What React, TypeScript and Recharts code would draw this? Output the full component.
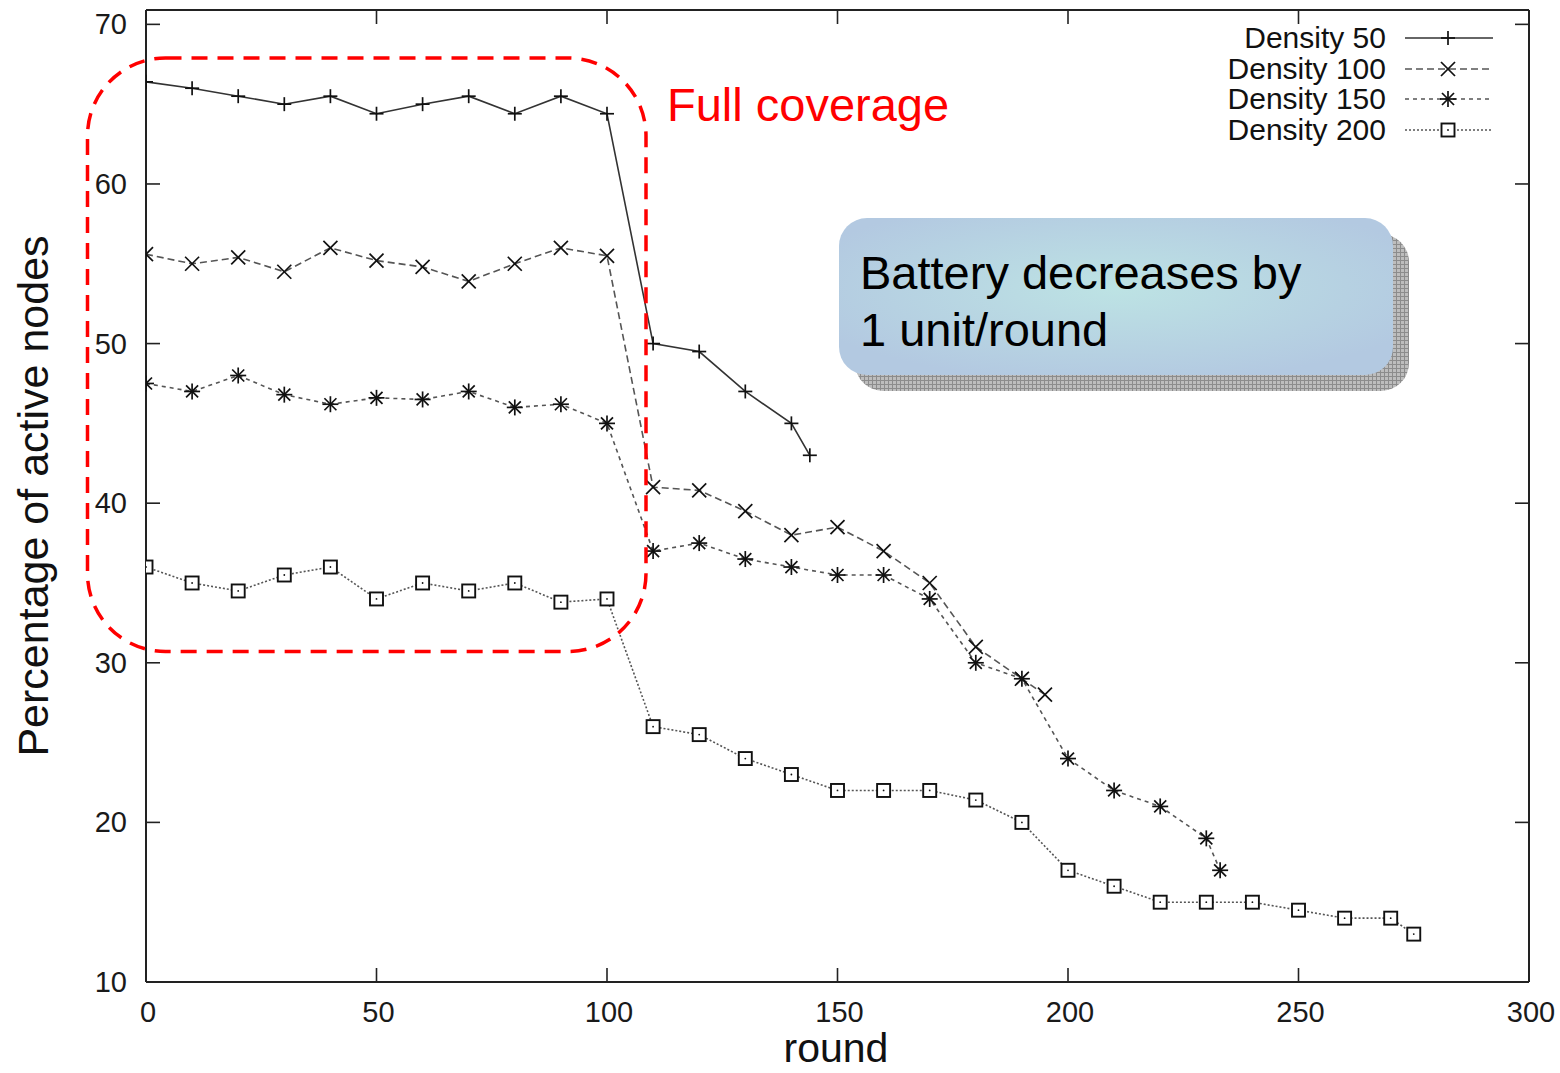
import React from 'react';
import { LineChart, Line, XAxis, YAxis, Legend } from 'recharts';

// ---------- data ----------
const rounds50 = [0, 10, 20, 30, 40, 50, 60, 70, 80, 90, 100, 110, 120, 130, 140, 144];
const density50 = [66.4, 66, 65.5, 65, 65.5, 64.4, 65, 65.5, 64.4, 65.5, 64.4, 50, 49.5, 47, 45, 43];

const rounds100 = [0, 10, 20, 30, 40, 50, 60, 70, 80, 90, 100, 110, 120, 130, 140, 150, 160, 170, 180, 190, 195];
const density100 = [55.6, 55, 55.4, 54.5, 56, 55.2, 54.8, 53.9, 55, 56, 55.5, 41, 40.8, 39.5, 38, 38.5, 37, 35, 31, 29, 28];

const rounds150 = [0, 10, 20, 30, 40, 50, 60, 70, 80, 90, 100, 110, 120, 130, 140, 150, 160, 170, 180, 190, 200, 210, 220, 230, 233];
const density150 = [47.5, 47, 48, 46.8, 46.2, 46.6, 46.5, 47, 46, 46.2, 45, 37, 37.5, 36.5, 36, 35.5, 35.5, 34, 30, 29, 24, 22, 21, 19, 17];

const rounds200 = [0, 10, 20, 30, 40, 50, 60, 70, 80, 90, 100, 110, 120, 130, 140, 150, 160, 170, 180, 190, 200, 210, 220, 230, 240, 250, 260, 270, 275];
const density200 = [36, 35, 34.5, 35.5, 36, 34, 35, 34.5, 35, 33.8, 34, 26, 25.5, 24, 23, 22, 22, 22, 21.4, 20, 17, 16, 15, 15, 15, 14.5, 14, 14, 13];

const xTicks = [0, 50, 100, 150, 200, 250, 300];
const yTicks = [10, 20, 30, 40, 50, 60, 70];
const seriesNames = ['Density 50', 'Density 100', 'Density 150', 'Density 200'];

const toPoints = (xs: number[], ys: number[]) => xs.map((x, i) => ({ round: x, value: ys[i] }));

const FONT = '"Liberation Sans", Arial, Helvetica, sans-serif';
const AXIS = '#222';
const MARK = '#111';

// ---------- markers ----------
type MP = { cx: number; cy: number };
const Plus = ({ cx, cy }: MP) => (
  <g stroke={MARK} strokeWidth={1.7}>
    <line x1={cx - 7} y1={cy} x2={cx + 7} y2={cy} />
    <line x1={cx} y1={cy - 7} x2={cx} y2={cy + 7} />
  </g>
);
const Cross = ({ cx, cy }: MP) => (
  <g stroke={MARK} strokeWidth={1.7}>
    <line x1={cx - 7} y1={cy - 7} x2={cx + 7} y2={cy + 7} />
    <line x1={cx - 7} y1={cy + 7} x2={cx + 7} y2={cy - 7} />
  </g>
);
const Star = ({ cx, cy }: MP) => (
  <g stroke={MARK} strokeWidth={1.7}>
    <line x1={cx - 8} y1={cy} x2={cx + 8} y2={cy} />
    <line x1={cx} y1={cy - 8} x2={cx} y2={cy + 8} />
    <line x1={cx - 6} y1={cy - 6} x2={cx + 6} y2={cy + 6} />
    <line x1={cx - 6} y1={cy + 6} x2={cx + 6} y2={cy - 6} />
  </g>
);
const Square = ({ cx, cy }: MP) => (
  <g>
    <rect x={cx - 6.5} y={cy - 6.5} width={13} height={13} fill="#fff" stroke={MARK} strokeWidth={1.9} />
    <circle cx={cx} cy={cy} r={0.9} fill={MARK} />
  </g>
);
const markers = [Plus, Cross, Star, Square];
const dashes = [undefined, '7 4', '4 4', '2 2'];
const lineColors = ['#333', '#555', '#555', '#555'];

const dotFor = (idx: number) => (p: any) => {
  const M = markers[idx];
  if (p.cx == null || p.cy == null) return <g key={`e${idx}-${p.index}`} />;
  return (
    <g key={`m${idx}-${p.index}`}>
      <M cx={p.cx} cy={p.cy} />
    </g>
  );
};

// ---------- ticks ----------
const BottomTick = (props: any) => {
  const { x, y, payload } = props;
  return (
    <g>
      <line x1={x} y1={y} x2={x} y2={y - 14} stroke={AXIS} strokeWidth={1.6} />
      <text x={x + 2} y={y + 40} textAnchor="middle" fontSize={29} fill="#1a1a1a" fontFamily={FONT}>
        {payload.value}
      </text>
    </g>
  );
};
const TopTick = (props: any) => {
  const { x, y } = props;
  return <line x1={x} y1={y} x2={x} y2={y + 14} stroke={AXIS} strokeWidth={1.6} />;
};
const LeftTick = (props: any) => {
  const { x, y, payload } = props;
  return (
    <g>
      <line x1={x} y1={y} x2={x + 14} y2={y} stroke={AXIS} strokeWidth={1.6} />
      <text x={x - 19} y={y + 10} textAnchor="end" fontSize={29} fill="#1a1a1a" fontFamily={FONT}>
        {payload.value}
      </text>
    </g>
  );
};
const RightTick = (props: any) => {
  const { x, y } = props;
  return <line x1={x} y1={y} x2={x - 14} y2={y} stroke={AXIS} strokeWidth={1.6} />;
};

// ---------- legend ----------
const LegendBox = () => {
  const rows = [18, 49, 79, 110];
  return (
    <svg width={330} height={130} style={{ display: 'block' }}>
      {seriesNames.map((name, i) => {
        const M = markers[i];
        return (
          <g key={name}>
            <text x={186} y={rows[i] + 10} textAnchor="end" fontSize={30} fill="#111" fontFamily={FONT}>
              {name}
            </text>
            <line
              x1={205}
              y1={rows[i]}
              x2={293}
              y2={rows[i]}
              stroke={lineColors[i]}
              strokeWidth={1.5}
              strokeDasharray={dashes[i]}
            />
            <M cx={248} cy={rows[i]} />
          </g>
        );
      })}
    </svg>
  );
};

export default function App() {
  const lines = [
    toPoints(rounds50, density50),
    toPoints(rounds100, density100),
    toPoints(rounds150, density150),
    toPoints(rounds200, density200),
  ];
  return (
    <div style={{ position: 'absolute', left: 0, top: 0, width: 1560, height: 1073, background: '#fff' }}>
      <LineChart width={1560} height={1073} margin={{ top: 0, right: 0, bottom: 0, left: 0 }}>
        <XAxis
          dataKey="round"
          type="number"
          domain={[0, 300]}
          ticks={xTicks}
          interval={0}
          height={91}
          tickSize={0}
          tickMargin={0}
          tick={<BottomTick />}
          axisLine={{ stroke: AXIS, strokeWidth: 2 }}
          tickLine={false}
          allowDataOverflow
        />
        <XAxis
          xAxisId="top"
          orientation="top"
          dataKey="round"
          type="number"
          domain={[0, 300]}
          ticks={xTicks}
          interval={0}
          height={10}
          tickSize={0}
          tickMargin={0}
          tick={<TopTick />}
          axisLine={{ stroke: AXIS, strokeWidth: 2 }}
          tickLine={false}
          allowDataOverflow
        />
        <YAxis
          type="number"
          domain={[10, 70.9]}
          ticks={yTicks}
          interval={0}
          width={146}
          tickSize={0}
          tickMargin={0}
          tick={<LeftTick />}
          axisLine={{ stroke: AXIS, strokeWidth: 2 }}
          tickLine={false}
          allowDataOverflow
        />
        <YAxis
          yAxisId="r"
          orientation="right"
          type="number"
          domain={[10, 70.9]}
          ticks={yTicks}
          interval={0}
          width={31}
          tickSize={0}
          tickMargin={0}
          tick={<RightTick />}
          axisLine={{ stroke: AXIS, strokeWidth: 2 }}
          tickLine={false}
          allowDataOverflow
        />
        <Legend
          layout="vertical"
          align="center"
          verticalAlign="middle"
          content={() => <LegendBox />}
          wrapperStyle={{ left: 1200, top: 20, width: 330, height: 130 }}
        />
        {lines.map((pts, i) => (
          <Line
            key={seriesNames[i]}
            name={seriesNames[i]}
            data={pts}
            dataKey="value"
            type="linear"
            stroke={lineColors[i]}
            strokeWidth={1.6}
            strokeDasharray={dashes[i]}
            dot={dotFor(i)}
            activeDot={false}
            isAnimationActive={false}
          />
        ))}
      </LineChart>
      <svg
        width={1560}
        height={1073}
        style={{ position: 'absolute', left: 0, top: 0, pointerEvents: 'none' }}
      >
        <defs>
          <radialGradient id="boxGrad" cx="50%" cy="45%" r="60%">
            <stop offset="0%" stopColor="#bde3e4" />
            <stop offset="100%" stopColor="#b3c9e1" />
          </radialGradient>
          <pattern id="hatch" width="4" height="4" patternUnits="userSpaceOnUse">
            <rect width="4" height="4" fill="#bdbdbd" />
            <path d="M0 0.5H4M0.5 0V4" stroke="#8c8c8c" strokeWidth="1" />
          </pattern>
        </defs>
        <rect
          x={87.5}
          y={58}
          width={558.5}
          height={593.5}
          rx={78}
          ry={78}
          fill="none"
          stroke="#ff0000"
          strokeWidth={3.5}
          strokeDasharray="16 10"
        />
        <text x={667} y={121} fontSize={47} fill="#ff0000" fontFamily={FONT}>
          Full coverage
        </text>
        <rect x={855} y={234} width={554} height={157} rx={28} ry={28} fill="url(#hatch)" />
        <rect x={839} y={218} width={554} height={157} rx={28} ry={28} fill="url(#boxGrad)" />
        <text x={860} y={289} fontSize={47} fill="#000" fontFamily={FONT}>
          Battery decreases by
        </text>
        <text x={860} y={346} fontSize={47} fill="#000" fontFamily={FONT}>
          1 unit/round
        </text>
        <text
          x={48}
          y={496}
          transform="rotate(-90 48 496)"
          textAnchor="middle"
          fontSize={43}
          fill="#111"
          fontFamily={FONT}
        >
          Percentage of active nodes
        </text>
        <text x={836} y={1062} textAnchor="middle" fontSize={41} fill="#111" fontFamily={FONT}>
          round
        </text>
      </svg>
    </div>
  );
}
